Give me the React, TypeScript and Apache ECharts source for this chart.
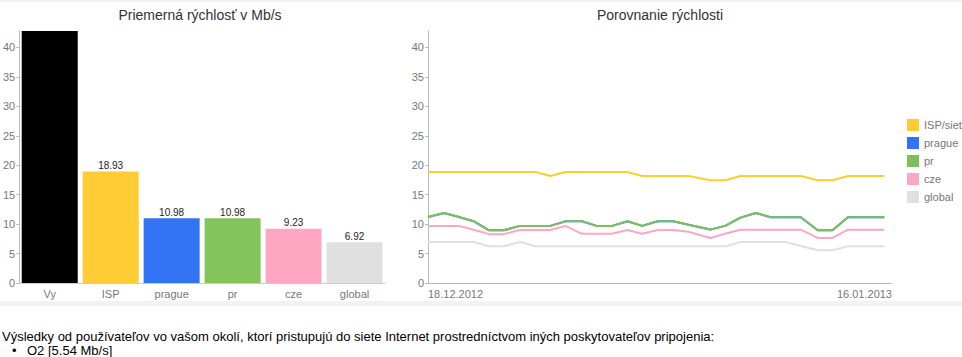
import React, { useEffect, useRef } from 'react';
import * as echarts from 'echarts';

const FONT = '"Liberation Sans", Arial, Helvetica, sans-serif';

// Bar chart data
const barCategories = ['Vy', 'ISP', 'prague', 'pr', 'cze', 'global'];
const barValues = [42.8, 18.93, 10.98, 10.98, 9.23, 6.92];
const barColors = ['#000000', '#FFCD33', '#3173F3', '#83C55A', '#FFA7C2', '#E0E0E0'];

// Axis ticks / labels
const yTicks = [0, 5, 10, 15, 20, 25, 30, 35, 40];
const dateLabels = ['18.12.2012', '16.01.2013'];

// Line chart data (x = days since 18.12.2012)
const dayPos = [0, 1.05, 2, 2.95, 3.95, 4.9, 5.95, 6.95, 7.9, 8.9, 9.95, 10.9, 11.9, 12.9, 13.85, 14.85, 15.85, 16.85, 18.25, 19.25, 20.2, 21.2, 22.15, 23.1, 24.1, 25.2, 26.15, 27.15, 28.1, 29.5];
const ispLine = [18.86, 18.86, 18.86, 18.86, 18.86, 18.86, 18.86, 18.86, 18.18, 18.86, 18.86, 18.86, 18.86, 18.86, 18.18, 18.18, 18.18, 18.18, 17.45, 17.45, 18.18, 18.18, 18.18, 18.18, 18.18, 17.45, 17.45, 18.18, 18.18, 18.18];
const pragueLine = [11.2, 11.9, 11.2, 10.5, 8.95, 8.95, 9.7, 9.7, 9.7, 10.5, 10.5, 9.7, 9.7, 10.5, 9.7, 10.5, 10.5, 9.9, 9.07, 9.75, 11.1, 11.9, 11.17, 11.17, 11.17, 8.95, 8.95, 11.17, 11.17, 11.17];
const prLine = [11.2, 11.9, 11.2, 10.5, 8.95, 8.95, 9.7, 9.7, 9.7, 10.5, 10.5, 9.7, 9.7, 10.5, 9.7, 10.5, 10.5, 9.9, 9.07, 9.75, 11.1, 11.9, 11.17, 11.17, 11.17, 8.95, 8.95, 11.17, 11.17, 11.17];
const czeLine = [9.7, 9.7, 9.7, 9.05, 8.3, 8.3, 9.0, 9.0, 9.0, 9.7, 8.35, 8.35, 8.35, 9.0, 8.35, 9.0, 9.0, 8.7, 7.65, 8.4, 9.05, 9.05, 9.05, 9.05, 9.05, 7.65, 7.65, 9.05, 9.05, 9.05];
const globalLine = [6.97, 6.97, 6.97, 6.97, 6.24, 6.24, 6.97, 6.24, 6.24, 6.24, 6.24, 6.24, 6.24, 6.24, 6.24, 6.24, 6.24, 6.24, 6.24, 6.24, 6.97, 6.97, 6.97, 6.97, 6.3, 5.56, 5.56, 6.24, 6.24, 6.24];

const lineNames = ['ISP/sieť', 'prague', 'pr', 'cze', 'global'];
const lineColors = ['#FFCD33', '#3173F3', '#7DC05A', '#FFA7C2', '#E0E0E0'];
const lineData = [ispLine, pragueLine, prLine, czeLine, globalLine];

const titles = ['Priemerná rýchlosť v Mb/s', 'Porovnanie rýchlosti'];

function yAxis(gridIndex: number) {
  return {
    type: 'value',
    gridIndex,
    min: 0,
    max: 42.8,
    interval: 5,
    splitLine: { show: false },
    axisLine: { show: true, lineStyle: { color: '#bbbbbb', width: 1 } },
    axisTick: { show: true, length: 3, lineStyle: { color: '#bbbbbb' }, customValues: yTicks },
    axisLabel: {
      color: '#777777',
      fontSize: 11,
      fontFamily: FONT,
      margin: 4,
      customValues: yTicks,
      formatter: (v: number) => (yTicks.includes(v) ? String(v) : ''),
    },
  };
}

export default function App() {
  const ref = useRef<HTMLDivElement>(null);

  useEffect(() => {
    if (!ref.current) return;
    const chart = echarts.init(ref.current, undefined, { renderer: 'svg' });
    const option: any = {
      animation: false,
      grid: [
        { left: 19, top: 31, width: 366, height: 252 },
        { left: 428, top: 31, width: 464, height: 252 },
      ],
      xAxis: [
        {
          type: 'category',
          gridIndex: 0,
          data: barCategories,
          axisTick: { show: false },
          axisLine: { show: true, lineStyle: { color: '#cccccc' } },
          axisLabel: { color: '#777777', fontSize: 11, fontFamily: FONT, margin: 5 },
        },
        {
          type: 'value',
          gridIndex: 1,
          min: 0,
          max: 30,
          interval: 30,
          splitLine: { show: false },
          axisTick: { show: false },
          axisLine: { show: true, lineStyle: { color: '#bbbbbb' } },
          axisLabel: {
            color: '#777777',
            fontSize: 11,
            fontFamily: FONT,
            margin: 5,
            alignMinLabel: 'left',
            alignMaxLabel: 'right',
            formatter: (v: number) => (v === 0 ? dateLabels[0] : dateLabels[1]),
          },
        },
      ],
      yAxis: [yAxis(0), yAxis(1)],
      legend: {
        data: lineNames,
        orient: 'vertical',
        left: 902,
        top: 114,
        itemWidth: 12,
        itemHeight: 12,
        itemGap: 6,
        icon: 'rect',
        textStyle: { color: '#777777', fontSize: 11, fontFamily: FONT },
      },
      graphic: titles.map((t, i) => ({
        type: 'text',
        x: i === 0 ? 200 : 660,
        y: 15,
        style: {
          text: t,
          textAlign: 'center',
          textVerticalAlign: 'middle',
          align: 'center',
          verticalAlign: 'middle',
          fill: '#333333',
          font: `14px ${FONT}`,
        },
      })),
      series: [
        {
          type: 'bar',
          name: 'bars',
          xAxisIndex: 0,
          yAxisIndex: 0,
          barWidth: 56,
          data: barValues.map((v, i) => ({
            value: v,
            itemStyle: { color: barColors[i] },
            label: { show: i > 0 },
          })),
          label: {
            show: true,
            position: 'top',
            distance: 1,
            color: '#222222',
            fontSize: 10,
            fontFamily: FONT,
            formatter: (p: any) => Number(p.value).toFixed(2),
          },
        },
        ...lineNames.map((name, k) => ({
          type: 'line',
          name,
          xAxisIndex: 1,
          yAxisIndex: 1,
          data: dayPos.map((d, i) => [d, lineData[k][i]]),
          showSymbol: false,
          symbol: 'none',
          color: lineColors[k],
          itemStyle: { color: lineColors[k] },
          lineStyle: { width: 2, color: lineColors[k] },
          z: k === 1 ? 1 : 2,
        })),
      ],
    };
    chart.setOption(option);
    return () => chart.dispose();
  }, []);

  return (
    <div style={{ position: 'absolute', left: 0, top: 0, width: 962, height: 357, background: '#ffffff', fontFamily: FONT, overflow: 'hidden' }}>
      <div style={{ position: 'absolute', left: 0, top: 0, width: 962, height: 2, background: '#f2f2f2' }} />
      <div style={{ position: 'absolute', left: 0, top: 301, width: 962, height: 5, background: '#f2f2f2' }} />
      <div ref={ref} style={{ position: 'absolute', left: 0, top: 0, width: 962, height: 301 }} />
      <div style={{ position: 'absolute', left: 2, top: 329, fontSize: 13, lineHeight: '15px', color: '#000', whiteSpace: 'nowrap' }}>
        Výsledky od používateľov vo vašom okolí, ktorí pristupujú do siete Internet prostredníctvom iných poskytovateľov pripojenia:
      </div>
      <div style={{ position: 'absolute', left: 12, top: 343, fontSize: 13, lineHeight: '15px', color: '#000' }}>•</div>
      <div style={{ position: 'absolute', left: 27, top: 343, fontSize: 13, lineHeight: '15px', color: '#000', whiteSpace: 'nowrap' }}>
        O2 [5.54 Mb/s]
      </div>
    </div>
  );
}
